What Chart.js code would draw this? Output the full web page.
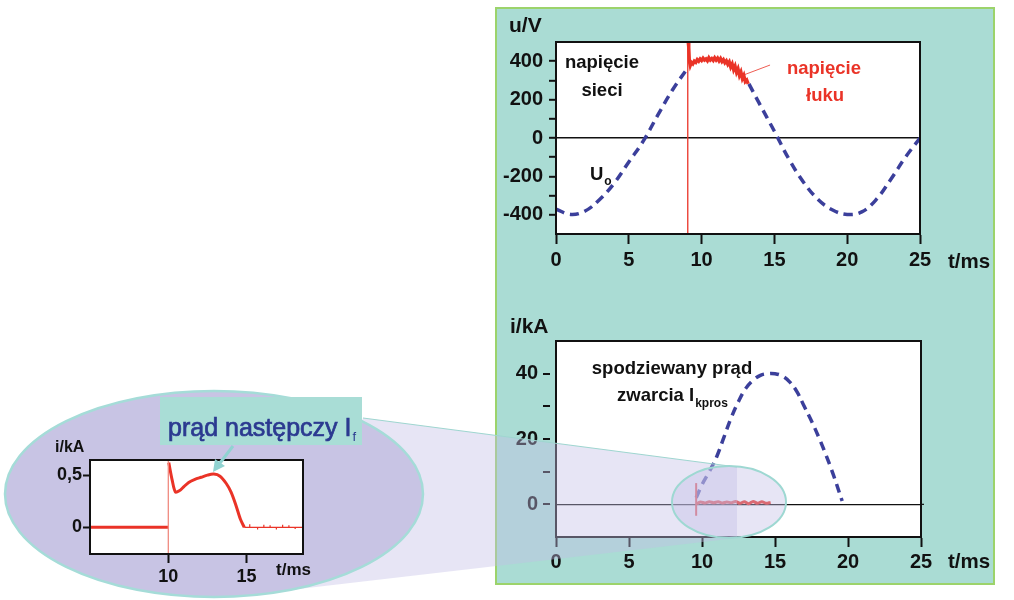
<!DOCTYPE html>
<html>
<head>
<meta charset="utf-8">
<script src="https://cdn.jsdelivr.net/npm/chart.js@4.4.0/dist/chart.umd.min.js"></script>
<style>
  body { margin: 0; background: #fff; }
  #wrap { position: relative; width: 1014px; height: 600px; overflow: hidden; }
  #panel { position: absolute; left: 495px; top: 7px; width: 500px; height: 578px; box-sizing: border-box;
           background: #aadcd4; border: 2px solid #9cd36b; }
  canvas { position: absolute; }
</style>
</head>
<body>
<div id="wrap">
  <div id="panel"></div>
  <canvas id="uChart" width="519" height="300" style="left:495px;top:0px"></canvas>
  <canvas id="iChart" width="519" height="300" style="left:495px;top:300px"></canvas>
  <canvas id="fChart" width="1014" height="600" style="left:0px;top:0px"></canvas>
</div>
<script>
const FAMILY = '"Liberation Sans", Arial, sans-serif';
const BLUE = '#3b3f9b';
const RED = '#ea3327';
const INK = '#111';

// --- top chart: napięcie sieci (dashed) and napięcie łuku (red), u/V over t/ms
const uTime = [0, 1, 2, 3, 4, 5, 6, 7, 8, 9, 9.1, 11, 13.25, 14, 15, 16, 17, 18, 19, 20, 21, 22, 23, 24, 25];
const uVolt = [-370, -398, -380, -320, -235, -125, -15, 120, 250, 360, 370, null, 282, 175, 35, -110, -230, -320, -375, -398, -385, -320, -215, -100, 0];

const arcTime = [9.08, 9.12, 9.16, 9.22, 9.3, 9.4, 9.5, 9.6, 9.7, 9.8, 9.9, 10.0, 10.1, 10.2, 10.3, 10.4, 10.5, 10.6, 10.7, 10.8,
  10.9, 11.0, 11.1, 11.2, 11.3, 11.4, 11.5, 11.6, 11.7, 11.8, 11.9, 12.0, 12.1, 12.2, 12.3, 12.4, 12.5, 12.6, 12.7, 12.8, 12.9, 13.0, 13.1, 13.2];
const arcVolt = [500, 470, 400, 378, 394, 386, 400, 394, 408, 400, 412, 404, 416, 406, 412, 402, 418, 406, 414, 404,
  418, 406, 416, 402, 414, 398, 408, 392, 402, 384, 396, 370, 386, 356, 374, 342, 360, 326, 344, 310, 326, 294, 302, 282];
const arcFlashTime = [9.05, 9.05];
const arcFlashVolt = [-500, 500];
const leaderTime = [12.95, 14.7];
const leaderVolt = [330, 380];

const tTicks = [0, 5, 10, 15, 20, 25];
const uTicks = [-400, -300, -200, -100, 0, 100, 200, 300, 400];
const uLabels = [-400, -200, 0, 200, 400];

// --- bottom chart: spodziewany prąd zwarcia (dashed) and prąd następczy (red), i/kA
const ipTime = [9.6, 10, 10.5, 11, 11.5, 12, 12.5, 13, 13.5, 14, 14.5, 15, 15.5, 16, 16.5, 17, 17.5, 18, 18.5, 19, 19.6];
const ipKA = [2, 6, 10, 14.5, 20.5, 26.5, 31.5, 35.5, 38, 39.5, 40, 40, 39.3, 37.5, 34.5, 30, 25.5, 20.5, 15, 9, 1];
const ifTime = [9.65, 9.9, 10.2, 10.5, 10.8, 11.1, 11.4, 11.7, 12.0, 12.3, 12.6, 12.9, 13.2, 13.5, 13.8, 14.1, 14.4, 14.7];
const ifKA = [0.2, 0.7, 0.4, 0.8, 0.5, 0.8, 0.4, 0.7, 0.5, 0.9, 0.3, 0.8, 0.2, 0.9, 0.3, 0.8, 0.3, 0.6];
const ifFlashTime = [9.6, 9.6];
const ifFlashKA = [-3.5, 6.5];
const iTicks = [0, 10, 20, 30, 40];
const iLabels = [0, 20, 40];

// --- zoomed inset: prąd następczy I_f
const zFlatTime = [5, 10];
const zFlatKA = [0, 0];
const zFlashTime = [10, 10];
const zFlashKA = [-0.3, 0.7];
const zTime = [10.03, 10.25, 10.45, 10.7, 11.0, 11.3, 11.7, 12.1, 12.5, 12.9, 13.3, 13.7, 14.0, 14.3, 14.6, 14.85];
const zKA = [0.62, 0.45, 0.34, 0.35, 0.39, 0.43, 0.46, 0.48, 0.5, 0.51, 0.49, 0.42, 0.34, 0.22, 0.08, 0];
const zTailTime = [14.85, 15.2, 15.2, 15.2, 15.7, 15.7, 15.7, 16.1, 16.1, 16.1, 16.5, 16.5, 16.5, 16.9, 16.9, 16.9,
  17.3, 17.3, 17.3, 17.7, 17.7, 17.7, 18.1, 18.1, 18.1, 18.6];
const zTailKA = [0, 0, 0.03, 0, 0, -0.02, 0, 0, 0.025, 0, 0, 0.02, 0, 0, -0.02, 0,
  0, 0.025, 0, 0, 0.02, 0, 0, -0.015, 0, 0];
const zTTicks = [10, 15];
const zITicks = [0, 0.5];

function pts(xs, ys) {
  return xs.map((x, i) => ({ x: x, y: ys[i] }));
}

function label(ctx, s, x, y, size, color, align, weight) {
  ctx.font = (weight || 'bold') + ' ' + size + 'px ' + FAMILY;
  ctx.fillStyle = color || INK;
  ctx.textAlign = align || 'left';
  ctx.textBaseline = 'alphabetic';
  ctx.fillText(s, x, y);
  return ctx.measureText(s).width;
}

function whitePlot(chart) {
  const a = chart.chartArea, ctx = chart.ctx;
  ctx.save();
  ctx.fillStyle = '#fff';
  ctx.fillRect(a.left, a.top, a.right - a.left, a.bottom - a.top);
  ctx.restore();
}

function framePlot(chart, color) {
  const a = chart.chartArea, ctx = chart.ctx;
  ctx.save();
  ctx.strokeStyle = color || INK;
  ctx.lineWidth = 2;
  ctx.strokeRect(a.left, a.top, a.right - a.left, a.bottom - a.top);
  ctx.restore();
}

const tickFont = { family: FAMILY, size: 20, weight: 'bold' };
const zeroGrid = ctx => (ctx.tick && ctx.tick.value === 0 ? INK : 'rgba(0,0,0,0)');

// ---------- top chart
new Chart(document.getElementById('uChart'), {
  type: 'line',
  data: {
    datasets: [
      { data: pts(arcFlashTime, arcFlashVolt), borderColor: RED, borderWidth: 1.3, pointRadius: 0, order: 1 },
      { data: pts(arcTime, arcVolt), borderColor: RED, borderWidth: 3.4, pointRadius: 0, tension: 0, order: 2 },
      { data: pts(leaderTime, leaderVolt), borderColor: RED, borderWidth: 0.8, pointRadius: 0, order: 3 },
      { data: pts(uTime, uVolt), borderColor: BLUE, borderWidth: 3.5, borderDash: [9, 6], pointRadius: 0,
        tension: 0.4, spanGaps: false, order: 4 }
    ]
  },
  options: {
    responsive: false, animation: false, events: [],
    layout: { padding: { left: 0, right: 94, top: 42, bottom: 26 } },
    plugins: { legend: { display: false }, tooltip: { enabled: false } },
    scales: {
      x: {
        type: 'linear', min: 0, max: 25,
        afterBuildTicks: ax => { ax.ticks = tTicks.map(v => ({ value: v })); },
        afterFit: s => { s.height = 40; },
        ticks: { font: tickFont, color: INK, padding: 4, autoSkip: false, maxRotation: 0 },
        grid: { drawOnChartArea: false, tickLength: 10, tickWidth: 2, tickColor: INK },
        border: { color: INK, width: 2 }
      },
      y: {
        type: 'linear', min: -500, max: 500,
        afterBuildTicks: ax => { ax.ticks = uTicks.map(v => ({ value: v })); },
        afterFit: s => { s.width = 61; },
        ticks: { font: tickFont, color: INK, padding: 6, autoSkip: false,
                 callback: v => (uLabels.includes(v) ? String(v) : '') },
        grid: { color: zeroGrid, lineWidth: 1.6, tickLength: 7, tickWidth: 2, tickColor: INK },
        border: { color: INK, width: 2 }
      }
    }
  },
  plugins: [{
    id: 'uDecor',
    beforeDraw: whitePlot,
    afterDraw(chart) {
      framePlot(chart);
      const ctx = chart.ctx;
      ctx.save();
      ctx.translate(-495, 0);
      label(ctx, 'u/V', 509, 32, 21);
      label(ctx, 'napięcie', 602, 68, 18.5, INK, 'center');
      label(ctx, 'sieci', 602, 96, 18.5, INK, 'center');
      const w = label(ctx, 'U', 590, 180, 18.5);
      label(ctx, 'o', 591 + w, 185, 12);
      label(ctx, 'napięcie', 824, 74, 18.5, RED, 'center');
      label(ctx, 'łuku', 825, 101, 18.5, RED, 'center');
      label(ctx, 't/ms', 948, 268, 20.5);
      ctx.restore();
    }
  }]
});

// ---------- bottom chart
new Chart(document.getElementById('iChart'), {
  type: 'line',
  data: {
    datasets: [
      { data: pts(ifFlashTime, ifFlashKA), borderColor: RED, borderWidth: 2, pointRadius: 0, order: 1 },
      { data: pts(ifTime, ifKA), borderColor: RED, borderWidth: 3, pointRadius: 0, tension: 0.3, order: 2 },
      { data: pts(ipTime, ipKA), borderColor: BLUE, borderWidth: 3.5, borderDash: [9, 6], pointRadius: 0,
        tension: 0.4, order: 3 }
    ]
  },
  options: {
    responsive: false, animation: false, events: [],
    layout: { padding: { left: 0, right: 93, top: 41, bottom: 23 } },
    plugins: { legend: { display: false }, tooltip: { enabled: false } },
    scales: {
      x: {
        type: 'linear', min: 0, max: 25,
        afterBuildTicks: ax => { ax.ticks = tTicks.map(v => ({ value: v })); },
        afterFit: s => { s.height = 40; },
        ticks: { font: tickFont, color: INK, padding: 3, autoSkip: false, maxRotation: 0 },
        grid: { drawOnChartArea: false, tickLength: 10, tickWidth: 2, tickColor: INK },
        border: { color: INK, width: 2 }
      },
      y: {
        type: 'linear', min: -10, max: 50,
        afterBuildTicks: ax => { ax.ticks = iTicks.map(v => ({ value: v })); },
        afterFit: s => { s.width = 61; },
        ticks: { font: tickFont, color: INK, padding: 18, autoSkip: false,
                 callback: v => (iLabels.includes(v) ? String(v) : '') },
        grid: { color: zeroGrid, lineWidth: 1.2, drawTicks: false },
        border: { color: INK, width: 2 }
      }
    }
  },
  plugins: [{
    id: 'iDecor',
    beforeDraw: whitePlot,
    afterDraw(chart) {
      framePlot(chart);
      const ctx = chart.ctx, y = chart.scales.y, a = chart.chartArea;
      ctx.save();
      ctx.strokeStyle = INK;
      ctx.lineWidth = 2;
      iTicks.forEach(v => {
        const py = Math.round(y.getPixelForValue(v));
        ctx.beginPath();
        ctx.moveTo(a.left - 13, py);
        ctx.lineTo(a.left - 6, py);
        ctx.stroke();
      });
      // zero line runs a little past the frame, as in the original
      ctx.lineWidth = 1.2;
      const y0 = y.getPixelForValue(0);
      ctx.beginPath();
      ctx.moveTo(a.right, y0);
      ctx.lineTo(a.right + 3, y0);
      ctx.stroke();
      ctx.translate(-495, -300);
      label(ctx, 'i/kA', 510, 333, 21);
      label(ctx, 'spodziewany prąd', 672, 374, 18.5, INK, 'center');
      const w = label(ctx, 'zwarcia I', 617, 401, 18.5);
      label(ctx, 'kpros', 618 + w, 407, 12);
      label(ctx, 't/ms', 948, 568, 20.5);
      ctx.restore();
    }
  }]
});

// ---------- inset (full-page canvas, also carries the magnifier shapes)
const LAV = 'rgba(196,190,230,0.40)';
const NAVY = '#2b3990';
new Chart(document.getElementById('fChart'), {
  type: 'line',
  data: {
    datasets: [
      { data: pts(zFlashTime, zFlashKA), borderColor: '#f08a80', borderWidth: 1.3, pointRadius: 0, order: 1 },
      { data: pts(zFlatTime, zFlatKA), borderColor: RED, borderWidth: 3, pointRadius: 0, order: 2 },
      { data: pts(zTime, zKA), borderColor: RED, borderWidth: 3, pointRadius: 0, tension: 0.3, order: 3 },
      { data: pts(zTailTime, zTailKA), borderColor: RED, borderWidth: 1.2, pointRadius: 0, order: 4 }
    ]
  },
  options: {
    responsive: false, animation: false, events: [],
    layout: { padding: { left: 30, right: 711, top: 460, bottom: 16 } },
    plugins: { legend: { display: false }, tooltip: { enabled: false } },
    scales: {
      x: {
        type: 'linear', min: 5, max: 18.6,
        afterBuildTicks: ax => { ax.ticks = zTTicks.map(v => ({ value: v })); },
        afterFit: s => { s.height = 30; },
        ticks: { font: { family: FAMILY, size: 18, weight: 'bold' }, color: INK, padding: 3, autoSkip: false, maxRotation: 0 },
        grid: { drawOnChartArea: false, tickLength: 9, tickWidth: 2, tickColor: INK },
        border: { color: INK, width: 2 }
      },
      y: {
        type: 'linear', min: -0.255, max: 0.645,
        afterBuildTicks: ax => { ax.ticks = zITicks.map(v => ({ value: v })); },
        afterFit: s => { s.width = 60; },
        ticks: { font: { family: FAMILY, size: 18, weight: 'bold' }, color: INK, padding: 1, autoSkip: false,
                 callback: v => String(v).replace('.', ',') },
        grid: { drawOnChartArea: false, tickLength: 7, tickWidth: 2, tickColor: INK },
        border: { color: INK, width: 2 }
      }
    }
  },
  plugins: [{
    id: 'magnifier',
    beforeDraw(chart) {
      const ctx = chart.ctx;
      ctx.save();
      // beam from the small ellipse to the big one
      ctx.fillStyle = LAV;
      ctx.beginPath();
      ctx.moveTo(363, 418);
      ctx.lineTo(737, 467);
      ctx.lineTo(737, 538);
      ctx.lineTo(290, 590);
      ctx.closePath();
      ctx.fill();
      ctx.strokeStyle = '#9fd6d0';
      ctx.lineWidth = 1.2;
      ctx.beginPath();
      ctx.moveTo(363, 418);
      ctx.lineTo(737, 467);
      ctx.stroke();
      // big ellipse
      ctx.fillStyle = '#c8c4e4';
      ctx.strokeStyle = '#a5dcd8';
      ctx.lineWidth = 2.5;
      ctx.beginPath();
      ctx.ellipse(214, 494, 209, 103, 0, 0, Math.PI * 2);
      ctx.fill();
      ctx.stroke();
      // small ellipse in the current chart
      ctx.fillStyle = LAV;
      ctx.strokeStyle = '#9ed8d2';
      ctx.lineWidth = 2;
      ctx.beginPath();
      ctx.ellipse(729, 502, 57, 36, 0, 0, Math.PI * 2);
      ctx.fill();
      ctx.stroke();
      // caption box
      ctx.fillStyle = '#a9ddd6';
      ctx.fillRect(160, 397, 202, 48);
      ctx.strokeStyle = NAVY;
      ctx.lineWidth = 0.7;
      ctx.font = 'normal 25px ' + FAMILY;
      ctx.textAlign = 'left';
      ctx.textBaseline = 'alphabetic';
      ctx.strokeText('prąd następczy I', 168, 436);
      const w = label(ctx, 'prąd następczy I', 168, 436, 25, NAVY, 'left', 'normal');
      label(ctx, 'f', 169 + w, 441, 13, NAVY, 'left', 'normal');
      ctx.restore();
      whitePlot(chart);
    },
    afterDraw(chart) {
      framePlot(chart);
      const ctx = chart.ctx;
      ctx.save();
      label(ctx, 'i/kA', 55, 452, 16);
      label(ctx, 't/ms', 276, 575, 17);
      // arrow to the current maximum
      ctx.strokeStyle = '#90d3d1';
      ctx.fillStyle = '#90d3d1';
      ctx.lineWidth = 3;
      ctx.beginPath();
      ctx.moveTo(233, 446);
      ctx.lineTo(220, 463);
      ctx.stroke();
      ctx.beginPath();
      ctx.moveTo(213, 472);
      ctx.lineTo(215, 459);
      ctx.lineTo(225, 466);
      ctx.closePath();
      ctx.fill();
      ctx.restore();
    }
  }]
});
</script>
</body>
</html>
